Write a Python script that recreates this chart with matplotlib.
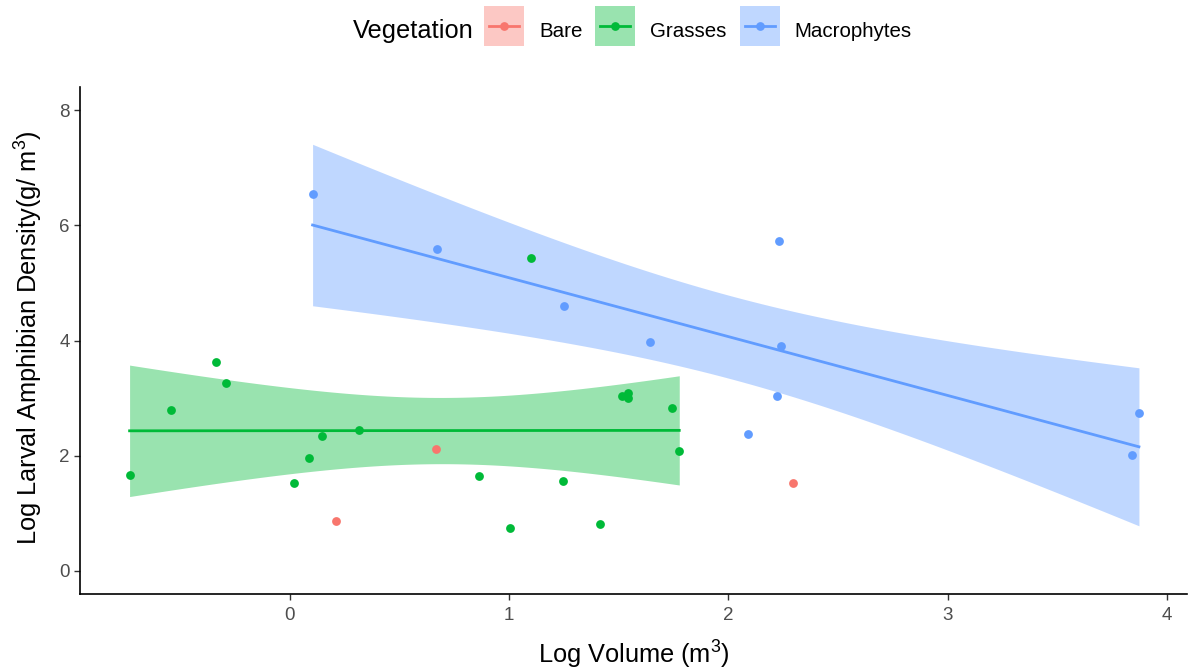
import numpy as np
import matplotlib
matplotlib.use("Agg")
import matplotlib.pyplot as plt
from matplotlib.patches import Rectangle
from matplotlib.lines import Line2D

plt.rcParams['font.family'] = ['Liberation Sans', 'DejaVu Sans']
plt.rcParams['mathtext.fontset'] = 'custom'
plt.rcParams['mathtext.rm'] = 'Liberation Sans'
plt.rcParams['mathtext.it'] = 'Liberation Sans'

# ---------------- data ----------------
groups = ["Bare", "Grasses", "Macrophytes"]
colors = {"Bare": "#F8766D", "Grasses": "#00BA38", "Macrophytes": "#619CFF"}

bare_x = [0.212, 0.668, 2.294]
bare_y = [0.87, 2.11, 1.53]

grass_x = [-0.729, -0.54, -0.336, -0.29, 0.018, 0.088, 0.15, 0.317, 0.865,
           1.006, 1.10, 1.248, 1.414, 1.515, 1.541, 1.541, 1.744, 1.776]
grass_y = [1.66, 2.79, 3.62, 3.27, 1.53, 1.96, 2.34, 2.44, 1.65,
           0.75, 5.44, 1.56, 0.81, 3.04, 3.09, 3.00, 2.83, 2.08]

macro_x = [0.105, 0.67, 1.249, 1.642, 2.09, 2.222, 2.232, 2.239, 3.84, 3.871]
macro_y = [6.55, 5.59, 4.60, 3.97, 2.37, 3.04, 5.73, 3.91, 2.01, 2.74]

x_ticks = [0, 1, 2, 3, 4]
y_ticks = [0, 2, 4, 6, 8]

data = {"Bare": (bare_x, bare_y), "Grasses": (grass_x, grass_y),
        "Macrophytes": (macro_x, macro_y)}
smoothed = ["Grasses", "Macrophytes"]


def t975(df):
    try:
        from scipy import stats
        return stats.t.ppf(0.975, df)
    except Exception:
        table = {8: 2.306004, 16: 2.119905}
        return table.get(df, 2.0)


def lm_ci(x, y, n=80):
    x = np.asarray(x, float)
    y = np.asarray(y, float)
    b, a = np.polyfit(x, y, 1)
    res = y - (a + b * x)
    dof = len(x) - 2
    s = np.sqrt(np.sum(res ** 2) / dof)
    xm = x.mean()
    sxx = np.sum((x - xm) ** 2)
    xs = np.linspace(x.min(), x.max(), n)
    fit = a + b * xs
    se = s * np.sqrt(1.0 / len(x) + (xs - xm) ** 2 / sxx)
    t = t975(dof)
    return xs, fit, fit - t * se, fit + t * se


# ---------------- figure ----------------
W, H = 1189, 670
fig = plt.figure(figsize=(W / 100, H / 100), dpi=100)
ax = fig.add_axes([80 / W, 1 - 594 / H, (1187 - 80) / W, (594 - 87) / H])

for g in smoothed:
    xs, fit, lo, hi = lm_ci(*data[g])
    ax.fill_between(xs, lo, hi, color=colors[g], alpha=0.4, linewidth=0, zorder=1)
for g in smoothed:
    xs, fit, lo, hi = lm_ci(*data[g])
    ax.plot(xs, fit, color=colors[g], lw=2.0, zorder=2)
for g in groups:
    x, y = data[g]
    ax.scatter(x, y, s=40, color=colors[g], linewidths=0, zorder=3)

ax.set_xlim(-0.955, 4.09)
ax.set_ylim(-0.4, 8.4)
ax.set_xticks(x_ticks)
ax.set_yticks(y_ticks)
ax.set_xticklabels([str(v) for v in x_ticks])
ax.set_yticklabels([str(v) for v in y_ticks])

for s in ["top", "right"]:
    ax.spines[s].set_visible(False)
for s in ["left", "bottom"]:
    ax.spines[s].set_color("black")
    ax.spines[s].set_linewidth(1.2)
ax.tick_params(axis="both", colors="#333333", length=4.5, width=1.0,
               labelsize=13.5, labelcolor="#4D4D4D")
ax.tick_params(axis="x", pad=5)
ax.tick_params(axis="y", pad=3)

title_fs = 18.3
fig.text(634 / W, 1 - 655 / H, "Log Volume (m$^3$)", ha="center", va="center",
         fontsize=title_fs, color="black")
fig.text(29 / W, 1 - 338 / H, "Log Larval Amphibian Density(g/ m$^3$)",
         ha="center", va="center", rotation=90, fontsize=title_fs, color="black")

# ---------------- legend (drawn manually, ggplot style: title on the left) ----------------
fig.text(353 / W, 1 - 38 / H, "Vegetation", ha="left", va="baseline",
         fontsize=title_fs, color="black")
label_fs = 14.8
key = 40          # key square size, px
key_top = 6       # px from top
gap_text = 15     # key -> label, px
gap_next = 13     # label -> next key, px
renderer = fig.canvas.get_renderer()
xpos = 484
for g in groups:
    fig.add_artist(Rectangle((xpos / W, 1 - (key_top + key) / H), key / W, key / H,
                             transform=fig.transFigure, facecolor=colors[g],
                             alpha=0.4, edgecolor="none"))
    yc = 1 - (key_top + key / 2) / H
    fig.add_artist(Line2D([(xpos + 5) / W, (xpos + key - 5) / W], [yc, yc],
                          transform=fig.transFigure, color=colors[g], lw=2.0))
    fig.add_artist(Line2D([(xpos + key / 2) / W], [yc], transform=fig.transFigure,
                          color=colors[g], marker="o", markersize=6.3,
                          markeredgewidth=0, linestyle="none"))
    t = fig.text((xpos + key + gap_text) / W, 1 - 37 / H, g, ha="left",
                 va="baseline", fontsize=label_fs, color="black")
    bb = t.get_window_extent(renderer=renderer)
    xpos = bb.x1 + gap_next

fig.savefig("out.png", dpi=100)
